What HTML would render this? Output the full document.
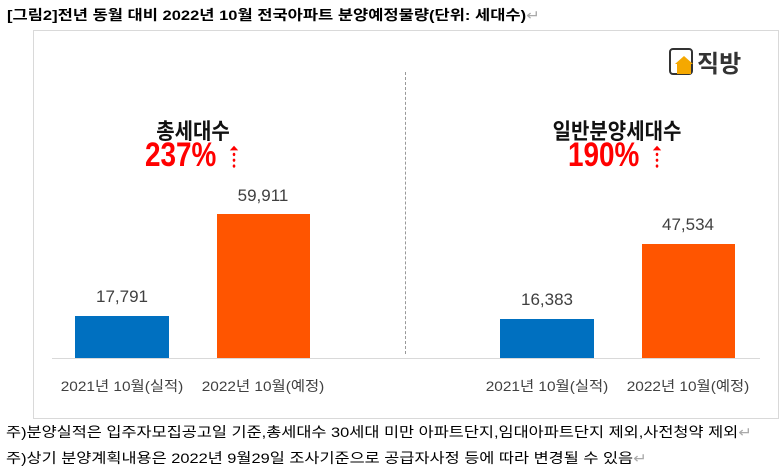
<!DOCTYPE html>
<html><head><meta charset="utf-8"><style>
body{margin:0;width:779px;height:474px;background:#fff;position:relative;overflow:hidden;font-family:"Liberation Sans","Noto Sans CJK KR","NanumGothic",sans-serif;}
.a{position:absolute;white-space:nowrap;}
.c{transform:translateX(-50%);}
.v{font-size:17px;color:#404040;}
.x{font-size:14px;color:#404040;transform:translateX(-50%) scaleX(1.1);}
.t{font-size:20px;font-weight:bold;color:#111;transform:translateX(-50%) scaleY(1.1);}
.p{font-size:34px;font-weight:bold;color:#f00;transform-origin:left top;transform:scaleX(0.82);}
.n{font-size:14px;color:#000;transform-origin:left top;transform:scaleX(1.17);}
</style></head><body>
<div class="a" style="left:7px;top:5px;font-size:14px;font-weight:bold;transform-origin:left top;transform:scaleX(1.18);">[그림2]전년 동월 대비 2022년 10월 전국아파트 분양예정물량(단위: 세대수)<span style="color:#aaa;font-weight:normal">↵</span></div>
<div class="a" style="left:33px;top:30px;width:744px;height:387px;border:1px solid #d9d9d9;"></div>
<div class="a" style="left:405px;top:72px;height:282px;border-left:1px dashed #999;"></div>
<div class="a" style="left:52px;top:358px;width:708px;height:1px;background:#d9d9d9;"></div>
<div class="a" style="left:75px;top:316px;width:94px;height:42px;background:#0070c0;"></div>
<div class="a" style="left:217px;top:214px;width:93px;height:144px;background:#ff5500;"></div>
<div class="a" style="left:500px;top:319px;width:94px;height:39px;background:#0070c0;"></div>
<div class="a" style="left:642px;top:244px;width:93px;height:114px;background:#ff5500;"></div>
<div class="a c v" style="left:122px;top:287px;">17,791</div>
<div class="a c v" style="left:263px;top:186px;">59,911</div>
<div class="a c v" style="left:547px;top:290px;">16,383</div>
<div class="a c v" style="left:688px;top:215px;">47,534</div>
<div class="a x" style="left:122px;top:376px;">2021년 10월(실적)</div>
<div class="a x" style="left:263px;top:376px;">2022년 10월(예정)</div>
<div class="a x" style="left:547px;top:376px;">2021년 10월(실적)</div>
<div class="a x" style="left:688px;top:376px;">2022년 10월(예정)</div>
<div class="a t" style="left:193px;top:115px;">총세대수</div>
<div class="a p" style="left:145px;top:136px;">237% <span style="font-size:26px">⇡</span></div>
<div class="a t" style="left:617px;top:115px;">일반분양세대수</div>
<div class="a p" style="left:568px;top:136px;">190% <span style="font-size:26px">⇡</span></div>
<div class="a" style="left:669px;top:48px;width:24px;height:27px;border:2px solid #333;border-radius:4px;box-sizing:border-box;background:#fff;"></div>
<div class="a" style="left:675px;top:56px;width:0;height:0;border-left:9px solid transparent;border-right:9px solid transparent;border-bottom:8px solid #f5a800;"></div>
<div class="a" style="left:677px;top:63px;width:14px;height:11px;background:#f5a800;"></div>
<div class="a" style="left:697px;top:44px;font-size:24px;font-weight:bold;color:#333;">직방</div>
<div class="a n" style="left:6px;top:422px;">주)분양실적은 입주자모집공고일 기준,총세대수 30세대 미만 아파트단지,임대아파트단지 제외,사전청약 제외<span style="color:#aaa">↵</span></div>
<div class="a n" style="left:6px;top:448px;">주)상기 분양계획내용은 2022년 9월29일 조사기준으로 공급자사정 등에 따라 변경될 수 있음<span style="color:#aaa">↵</span></div>
</body></html>
